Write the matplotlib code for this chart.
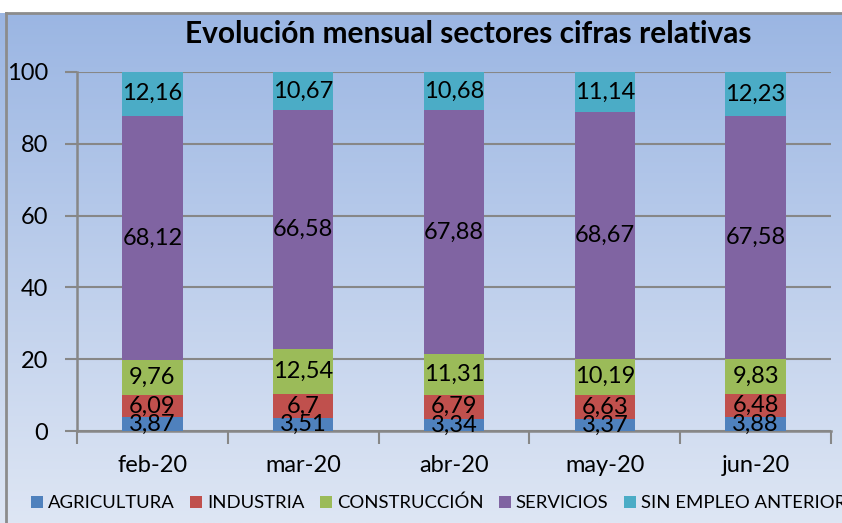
import numpy as np
import matplotlib
matplotlib.use("Agg")
import matplotlib.pyplot as plt
from matplotlib.lines import Line2D

plt.rcParams["font.family"] = ["Lato", "DejaVu Sans"]

months = ["feb-20", "mar-20", "abr-20", "may-20", "jun-20"]
sectors = ["AGRICULTURA", "INDUSTRIA", "CONSTRUCCIÓN", "SERVICIOS", "SIN EMPLEO ANTERIOR"]
agricultura = [3.87, 3.51, 3.34, 3.37, 3.88]
industria = [6.09, 6.7, 6.79, 6.63, 6.48]
construccion = [9.76, 12.54, 11.31, 10.19, 9.83]
servicios = [68.12, 66.58, 67.88, 68.67, 67.58]
sin_empleo = [12.16, 10.67, 10.68, 11.14, 12.23]
series = [agricultura, industria, construccion, servicios, sin_empleo]
colors = ["#4f81bd", "#c0504d", "#9bbb59", "#8064a2", "#4bacc6"]

fig = plt.figure(figsize=(8.42, 5.23), dpi=100)

# gradient background (chart area starts a bit below the top edge)
bg = fig.add_axes([0, 0, 1, 1], zorder=0)
top_c = np.array([155, 182, 227]) / 255
bot_c = np.array([222, 230, 244]) / 255
t = np.linspace(0, 1, 256)[:, None]
grad = top_c * (1 - t) + bot_c * t
grad = np.repeat(grad[:, None, :], 2, axis=1)
bg.imshow(grad, aspect="auto", extent=[0, 1, 0, 1 - 13 / 523], origin="upper")
bg.set_xlim(0, 1); bg.set_ylim(0, 1)
bg.axis("off")
# chart border (left and top visible)
fig.add_artist(Line2D([6 / 842, 6 / 842], [0, 1 - 13 / 523], color="#8c8c8c", lw=2))
fig.add_artist(Line2D([6 / 842, 1], [1 - 13 / 523, 1 - 13 / 523], color="#8c8c8c", lw=2))

ax = fig.add_axes([77 / 842, 1 - 431 / 523, (831 - 77) / 842, (431 - 72) / 523], zorder=1)
ax.set_facecolor("none")
x = np.arange(len(months))
bottom = np.zeros(len(months))
for name, vals, c in zip(sectors, series, colors):
    bars = ax.bar(x, vals, 0.4, bottom=bottom, color=c, label=name, zorder=3)
    ax.bar_label(bars, labels=[f"{v:g}".replace(".", ",") for v in vals],
                 label_type="center", fontsize=17, color="black", zorder=4)
    bottom += np.array(vals)

ax.set_xlim(-0.5, len(months) - 0.5)
ax.set_ylim(0, 100)
ax.set_yticks(range(0, 101, 20))
ax.yaxis.grid(True, color="#878787", lw=1.5, zorder=0)
ax.set_xticks(x)
ax.set_xticklabels(months, fontsize=17)
ax.set_xticks(np.arange(-0.5, len(months)), minor=True)
ax.tick_params(axis="x", which="major", length=0, pad=17)
ax.tick_params(axis="x", which="minor", length=9, width=1.5, color="#878787", direction="out")
ax.tick_params(axis="y", labelsize=17, length=9, width=1.5, color="#878787", pad=12)
for s in ["top", "right"]:
    ax.spines[s].set_visible(False)
for s in ["left", "bottom"]:
    ax.spines[s].set_color("#878787")
    ax.spines[s].set_linewidth(1.8)

fig.text(468 / 842, 1 - 34 / 523, "Evolución mensual sectores cifras relativas",
         ha="center", va="center", fontsize=21.5, fontweight="bold")

h, l = ax.get_legend_handles_labels()
fig.legend(h, l, loc="center left", bbox_to_anchor=(24 / 842, 1 - 503 / 523), ncol=5,
           frameon=False, fontsize=13.3, handlelength=0.65, handleheight=0.65,
           handletextpad=0.25, columnspacing=0.85, borderaxespad=0)

fig.savefig("out.png", dpi=100)
